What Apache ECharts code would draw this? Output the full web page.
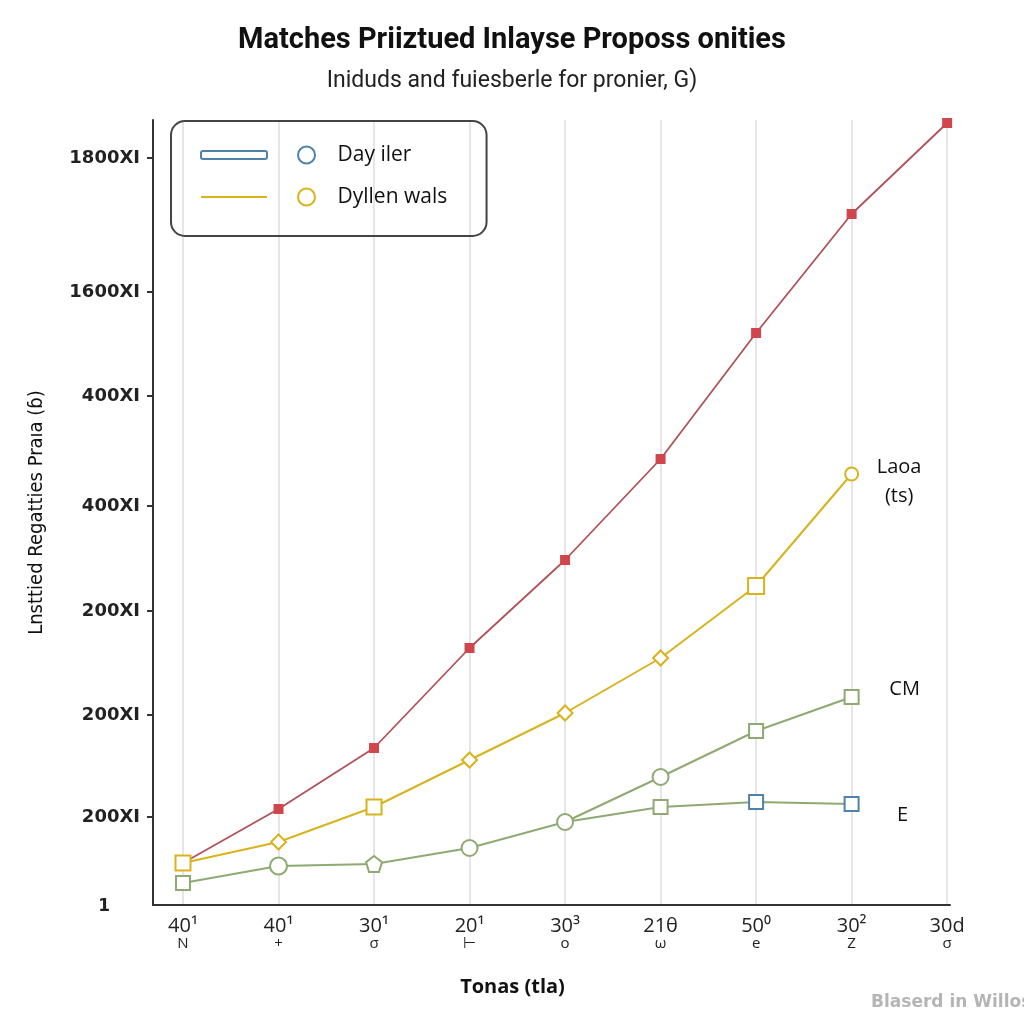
<!DOCTYPE html>
<html><head><meta charset="utf-8">
<script src="https://cdn.jsdelivr.net/npm/echarts@6/dist/echarts.min.js"></script>
<style>html,body{margin:0;padding:0;background:#fff}#c{width:1024px;height:1024px}</style>
</head><body><div id="c"></div>
<script>
// ---- data ----
const xLabels = ['40¹','40¹','30¹','20¹','30³','21θ','50⁰','30²','30d'];
const xSubLabels = ['N','+','σ','⊢','o','ω','e','Z','σ'];
const yTickValues = [0, 88, 190, 294, 399, 509, 613, 747];
const yTickLabels = ['1','200XI','200XI','200XI','400XI','400XI','1600XI','1800XI'];
const redValues    = [42, 96, 157, 257, 345, 446, 572, 691, 782];
const yellowValues = [42, 63, 98, 145, 192, 247, 319, 431, null];
const cmValues     = [22, 39, 41, 57, 83, 128, 174, 208, null];
const eValues      = [null, null, null, null, 83, 98, 103, 101, null];

// ---- styles (kept apart from the data) ----
const RED_LINE = '#b0525a', RED_MARK = '#cf474d';
const YELLOW = '#d8b31c', GREEN = '#8eaa72', BLUE = '#4f82a6';
const PENTA = 'path://M0,-10 L9.5,-3.1 L5.9,8.1 L-5.9,8.1 L-9.5,-3.1 Z';
const NARROW = '"DejaVu Sans Condensed", Roboto, sans-serif';
const yellowSymbols = ['rect','diamond','rect','diamond','diamond','diamond','rect','circle'];
const yellowSizes   = [15, 15, 15, 15, 15, 15, 16, 13];
const cmSymbols = ['rect','circle', PENTA,'circle','circle','circle','rect','rect'];
const cmSizes   = [14, 17, 16, 16, 16, 16, 14, 14];
const eSymbols  = ['none','none','none','none','none','rect','rect','rect'];
const eColors   = [GREEN, GREEN, GREEN, GREEN, GREEN, GREEN, BLUE, BLUE];

function pairs(vals, extra) {
  const out = [];
  vals.forEach((v, i) => { if (v !== null) out.push(Object.assign({ value: [i, v] }, extra ? extra(i) : {})); });
  return out;
}
const labelFont = { fontFamily: 'Open Sans', fontSize: 20, color: '#111' };

const chart = echarts.init(document.getElementById('c'), null, { renderer: 'canvas' });
chart.setOption({
  backgroundColor: '#fff',
  animation: false,
  title: [
    { text: 'Matches Priiztued Inlayse Proposs onities', subtext: 'Iniduds and fuiesberle for pronier, G)',
      left: 'center', top: 21, itemGap: 15,
      textStyle: { fontFamily: 'Roboto', fontWeight: 'bold', fontSize: 29, color: '#111' },
      subtextStyle: { fontFamily: 'Roboto', fontSize: 23, color: '#222' } },
    { text: 'Blaserd in Willos', left: 866, top: 989,
      textStyle: { fontFamily: 'DejaVu Sans', fontWeight: 'bold', fontSize: 17, color: '#b5b5b5' } }
  ],
  legend: [
    { orient: 'vertical', left: 171, top: 121, icon: 'roundRect', itemWidth: 66, itemHeight: 8,
      itemGap: 18, padding: [22, 209, 27, 29], borderColor: '#444', borderWidth: 2, borderRadius: 14,
      formatter: () => ' ', textStyle: { fontSize: 20, lineHeight: 24 }, selectedMode: false,
      data: [
        { name: 'Day iler', itemStyle: { color: '#fff', borderColor: BLUE, borderWidth: 2 } },
        { name: 'Dyllen wals', icon: 'path://M0,0H66V2H0Z', itemStyle: { color: YELLOW, borderWidth: 0 } }
      ] },
    { orient: 'vertical', left: 297, top: 143, icon: 'circle', itemWidth: 52, itemHeight: 17,
      itemGap: 18, padding: 0, selectedMode: false,
      textStyle: Object.assign({ lineHeight: 24 }, labelFont, { fontSize: 21 }),
      data: [
        { name: 'Day iler', itemStyle: { color: '#fff', borderColor: BLUE, borderWidth: 2 } },
        { name: 'Dyllen wals', itemStyle: { color: '#fff', borderColor: YELLOW, borderWidth: 2 } }
      ] }
  ],
  grid: { left: 153, right: 74, top: 120, bottom: 119, containLabel: false },
  xAxis: {
    type: 'value', min: -0.314, max: 8.03,
    name: 'Tonas (tla)', nameLocation: 'middle', nameGap: 72,
    nameTextStyle: { fontFamily: 'Open Sans', fontWeight: 'bold', fontSize: 20, color: '#111', padding: [0, 78, 0, 0] },
    axisLine: { show: true, onZero: false, lineStyle: { color: '#333', width: 2 } },
    axisTick: { show: false, customValues: [0,1,2,3,4,5,6,7,8] },
    splitLine: { show: true, lineStyle: { color: '#e6e6e6', width: 2 } },
    axisLabel: {
      customValues: [0,1,2,3,4,5,6,7,8], margin: 11,
      formatter: v => { const i = Math.round(v); return '{a|' + xLabels[i] + '}\n{b|' + xSubLabels[i] + '}'; },
      rich: {
        a: { fontFamily: 'Open Sans', fontSize: 20, color: '#222', lineHeight: 20 },
        b: { fontFamily: 'Open Sans', fontSize: 15, color: '#222', lineHeight: 15 }
      }
    }
  },
  yAxis: {
    type: 'value', min: 0, max: 785,
    name: 'Lnsttied Regatties Praıa (ɓ)', nameLocation: 'middle', nameGap: 106, nameRotate: 90,
    nameTextStyle: { fontFamily: NARROW, fontSize: 20, color: '#111' },
    axisLine: { show: true, onZero: false, lineStyle: { color: '#333', width: 2 } },
    axisTick: { show: true, length: 6, customValues: yTickValues.slice(1), lineStyle: { color: '#333', width: 2 } },
    splitLine: { show: false },
    axisLabel: {
      customValues: yTickValues, margin: 13,
      formatter: v => { const i = yTickValues.indexOf(Math.round(v)); const t = yTickLabels[i];
        return t === '1' ? '{one|1}' : '{n|' + t + '}'; },
      rich: {
        n: { fontFamily: 'DejaVu Sans', fontWeight: 'bold', fontSize: 18, color: '#222' },
        one: { fontFamily: 'DejaVu Sans', fontWeight: 'bold', fontSize: 17, color: '#222', padding: [4, 30, 0, 0] }
      }
    }
  },
  series: [
    { name: 'Rnid', type: 'line', symbol: 'rect', symbolSize: 10, z: 2,
      lineStyle: { color: RED_LINE, width: 1.8 }, itemStyle: { color: RED_MARK },
      data: pairs(redValues) },
    { name: 'CM', type: 'line', z: 3, lineStyle: { color: GREEN, width: 2 },
      itemStyle: { color: '#fff', borderColor: GREEN, borderWidth: 2 },
      data: pairs(cmValues, i => ({ symbol: cmSymbols[i], symbolSize: cmSizes[i] })),
      label: { show: true, position: 'right', distance: 45, align: 'center', offset: [0, -8],
        formatter: p => p.dataIndex === 7 ? 'CM' : '', fontFamily: 'Open Sans', fontSize: 20, color: '#111' } },
    { name: 'Day iler', type: 'line', z: 3, lineStyle: { color: GREEN, width: 2 },
      itemStyle: { color: '#fff', borderColor: BLUE, borderWidth: 2 },
      data: pairs(eValues, i => ({ symbol: eSymbols[i], symbolSize: 14,
        itemStyle: { color: '#fff', borderColor: eColors[i], borderWidth: 2 } })),
      label: { show: true, position: 'right', distance: 43, align: 'center', offset: [0, 11],
        formatter: p => p.dataIndex === 3 ? 'E' : '', fontFamily: 'Open Sans', fontSize: 20, color: '#111' } },
    { name: 'Dyllen wals', type: 'line', z: 4, lineStyle: { color: YELLOW, width: 2 },
      itemStyle: { color: '#fff', borderColor: YELLOW, borderWidth: 2 },
      data: pairs(yellowValues, i => ({ symbol: yellowSymbols[i], symbolSize: yellowSizes[i] })),
      label: { show: true, position: 'right', distance: 40, align: 'center', offset: [0, 8], lineHeight: 29,
        formatter: p => p.dataIndex === 7 ? 'Laoa\n(ts)' : '', fontFamily: 'Open Sans', fontSize: 20, color: '#111' } }
  ]
});
</script></body></html>
